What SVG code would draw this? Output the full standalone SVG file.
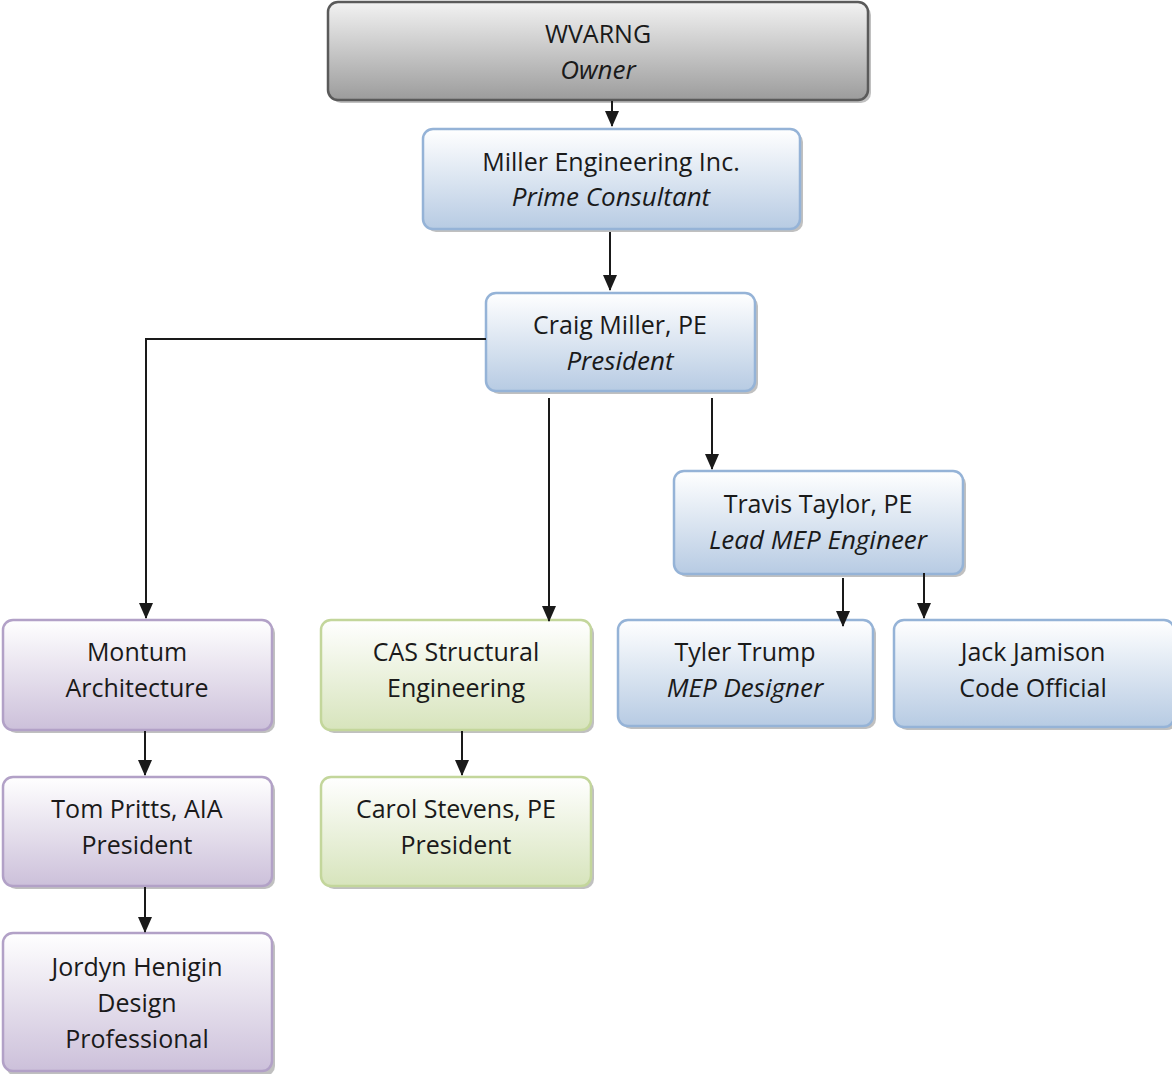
<svg xmlns="http://www.w3.org/2000/svg" width="1172" height="1074" viewBox="0 0 1172 1074">
<defs>
<linearGradient id="gGray" x1="0" y1="0" x2="0" y2="1"><stop offset="0" stop-color="#f2f2f2"/><stop offset="1" stop-color="#9c9c9c"/></linearGradient>
<linearGradient id="gBlue" x1="0" y1="0" x2="0" y2="1"><stop offset="0" stop-color="#ffffff"/><stop offset="1" stop-color="#b7cbe3"/></linearGradient>
<linearGradient id="gPurple" x1="0" y1="0" x2="0" y2="1"><stop offset="0" stop-color="#ffffff"/><stop offset="1" stop-color="#ccc0da"/></linearGradient>
<linearGradient id="gGreen" x1="0" y1="0" x2="0" y2="1"><stop offset="0" stop-color="#ffffff"/><stop offset="1" stop-color="#d7e4bc"/></linearGradient>
<marker id="arr" markerWidth="16" markerHeight="14" refX="15" refY="7" orient="auto" markerUnits="userSpaceOnUse"><path d="M0,0 L16,7 L0,14 Z" fill="#1a1a1a"/></marker>
</defs>
<style>
.sh{fill:#8c8c8c;opacity:0.55}
.gray{fill:url(#gGray);stroke:#5a5a5a;stroke-width:2.5}
.blue{fill:url(#gBlue);stroke:#95b3d7;stroke-width:2.5}
.purple{fill:url(#gPurple);stroke:#b2a1c7;stroke-width:2.5}
.green{fill:url(#gGreen);stroke:#c3d69b;stroke-width:2.5}
text{font-family:"Open Sans","Noto Sans",sans-serif;font-size:25px;fill:#1a1a1a;text-anchor:middle}
.it{font-style:italic;font-size:26px}
.c{fill:none;stroke:#1a1a1a;stroke-width:2}
</style>
<g id="wvarng">
<rect class="sh" x="331" y="5" width="540" height="98" rx="10"/>
<rect class="gray" x="328" y="2" width="540" height="98" rx="10"/>
<text x="598" y="43">WVARNG</text><text class="it" x="598" y="79">Owner</text>
</g>
<g id="miller-engineering">
<rect class="sh" x="426" y="132" width="377" height="100" rx="10"/>
<rect class="blue" x="423" y="129" width="377" height="100" rx="10"/>
<text x="611" y="171">Miller Engineering Inc.</text><text class="it" x="611" y="206">Prime Consultant</text>
</g>
<g id="craig-miller">
<rect class="sh" x="489" y="296" width="269" height="98" rx="10"/>
<rect class="blue" x="486" y="293" width="269" height="98" rx="10"/>
<text x="620" y="334">Craig Miller, PE</text><text class="it" x="620" y="370">President</text>
</g>
<g id="travis-taylor">
<rect class="sh" x="677" y="474" width="289" height="103" rx="10"/>
<rect class="blue" x="674" y="471" width="289" height="103" rx="10"/>
<text x="818" y="513">Travis Taylor, PE</text><text class="it" x="818" y="549">Lead MEP Engineer</text>
</g>
<g id="tyler-trump">
<rect class="sh" x="621" y="623" width="255" height="106" rx="10"/>
<rect class="blue" x="618" y="620" width="255" height="106" rx="10"/>
<text x="745" y="661">Tyler Trump</text><text class="it" x="745" y="697">MEP Designer</text>
</g>
<g id="jack-jamison">
<rect class="sh" x="897" y="623" width="280" height="107" rx="10"/>
<rect class="blue" x="894" y="620" width="280" height="107" rx="10"/>
<text x="1033" y="661">Jack Jamison</text><text x="1033" y="697">Code Official</text>
</g>
<g id="montum">
<rect class="sh" x="6" y="623" width="269" height="110" rx="10"/>
<rect class="purple" x="3" y="620" width="269" height="110" rx="10"/>
<text x="137" y="661">Montum</text><text x="137" y="697">Architecture</text>
</g>
<g id="cas">
<rect class="sh" x="324" y="623" width="270" height="110" rx="10"/>
<rect class="green" x="321" y="620" width="270" height="110" rx="10"/>
<text x="456" y="661">CAS Structural</text><text x="456" y="697">Engineering</text>
</g>
<g id="tom-pritts">
<rect class="sh" x="6" y="780" width="269" height="109" rx="10"/>
<rect class="purple" x="3" y="777" width="269" height="109" rx="10"/>
<text x="137" y="818">Tom Pritts, AIA</text><text x="137" y="854">President</text>
</g>
<g id="carol-stevens">
<rect class="sh" x="324" y="780" width="270" height="109" rx="10"/>
<rect class="green" x="321" y="777" width="270" height="109" rx="10"/>
<text x="456" y="818">Carol Stevens, PE</text><text x="456" y="854">President</text>
</g>
<g id="jordyn-henigin">
<rect class="sh" x="6" y="936" width="269" height="140" rx="10"/>
<rect class="purple" x="3" y="933" width="269" height="138" rx="10"/>
<text x="137" y="976">Jordyn Henigin</text><text x="137" y="1012">Design</text><text x="137" y="1048">Professional</text>
</g>
<g id="connectors">
<path class="c" d="M612,101 V126" marker-end="url(#arr)"/>
<path class="c" d="M610,232 V290" marker-end="url(#arr)"/>
<path class="c" d="M486,339 H146 V618" marker-end="url(#arr)"/>
<path class="c" d="M549,398 V621" marker-end="url(#arr)"/>
<path class="c" d="M712,398 V469" marker-end="url(#arr)"/>
<path class="c" d="M843,578 V626" marker-end="url(#arr)"/>
<path class="c" d="M924,573 V618" marker-end="url(#arr)"/>
<path class="c" d="M145,731 V775" marker-end="url(#arr)"/>
<path class="c" d="M462,731 V775" marker-end="url(#arr)"/>
<path class="c" d="M145,887 V932" marker-end="url(#arr)"/>
</g>
</svg>
